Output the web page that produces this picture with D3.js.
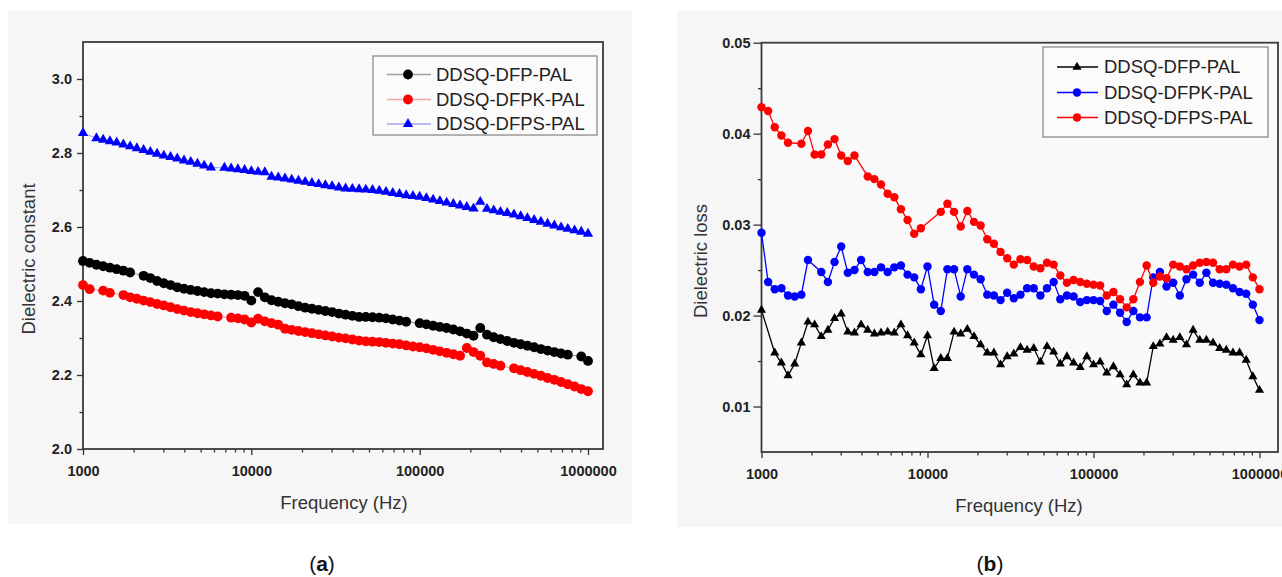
<!DOCTYPE html>
<html>
<head>
<meta charset="utf-8">
<script src="https://cdn.jsdelivr.net/npm/d3@7"></script>
<style>
  html, body { margin: 0; padding: 0; background: #ffffff; }
  svg { display: block; }
  text { font-family: Arial, "Liberation Sans", sans-serif; }
</style>
</head>
<body>
<svg id="chart" width="1282" height="577"></svg>
<script>
// ---------------- DATA ----------------
const freq = [1000,1096,1202,1318,1445,1585,1738,1905,2089,2291,2512,2754,3020,3311,3631,3981,4365,4786,5248,5754,
  6310,6918,7586,8318,9120,10000,10965,12023,13183,14454,15849,17378,19055,20893,22909,25119,27542,30200,33113,36308,
  39811,43652,47863,52481,57544,63096,69183,75858,83176,91201,100000,109648,120226,131826,144544,158489,173780,190546,208930,229087,
  251189,275423,301995,331131,363078,398107,436516,478630,524807,575440,630957,691831,758578,831764,912011,1000000];

const seriesNames = ["DDSQ-DFP-PAL", "DDSQ-DFPK-PAL", "DDSQ-DFPS-PAL"];

// (a) Dielectric constant
const dfpConst = [2.508,2.503,2.498,2.494,2.490,2.486,2.482,2.477,null,2.468,2.462,2.454,2.448,2.443,2.437,2.433,2.430,2.427,2.424,2.421,
  2.420,2.418,2.417,2.416,2.414,2.401,2.424,2.410,2.402,2.398,2.394,2.391,2.386,2.382,2.379,2.376,2.373,2.370,2.366,2.363,
  2.360,2.357,2.357,2.356,2.355,2.353,2.350,2.347,2.344,null,2.340,2.337,2.333,2.330,2.327,2.323,2.318,2.312,2.306,2.327,
  2.309,2.302,2.297,2.292,2.287,2.283,2.279,2.275,2.270,2.266,2.262,2.258,2.255,null,2.250,2.238];
const dfpkConst = [2.443,2.432,null,2.428,2.422,null,2.416,2.410,2.406,2.401,2.397,2.392,2.388,2.383,2.378,2.374,2.370,2.367,2.364,2.361,
  2.358,null,2.355,2.353,2.350,2.342,2.352,2.345,2.340,2.336,2.325,2.322,2.319,2.316,2.313,2.310,2.307,2.304,2.301,2.299,
  2.296,2.293,2.291,2.290,2.289,2.287,2.285,2.283,2.280,2.277,2.275,2.272,2.268,2.264,2.260,2.256,2.252,2.273,2.262,2.252,
  2.234,2.230,2.225,null,2.218,2.213,2.208,2.203,2.198,2.192,2.187,2.181,2.175,2.169,2.162,2.156];
const dfpsConst = [2.854,null,2.840,2.836,2.832,2.828,2.823,2.818,2.813,2.808,2.803,2.798,2.793,2.789,2.785,2.780,2.776,2.771,2.766,2.761,
  null,2.760,2.758,2.756,2.754,2.751,2.749,2.748,2.736,2.734,2.731,2.728,2.725,2.722,2.719,2.716,2.713,2.710,2.707,2.704,
  2.703,2.702,2.701,2.700,2.698,2.695,2.692,2.689,2.686,2.684,2.682,2.678,2.674,2.670,2.666,2.662,2.658,2.654,2.650,2.668,
  2.649,2.645,2.641,2.638,2.634,2.629,2.624,2.619,2.614,2.609,2.604,2.599,2.595,2.591,2.587,2.582];

// (b) Dielectric loss
const dfpLoss = [0.0206,null,0.0159,0.0148,0.0134,0.0147,0.0170,0.0193,0.0190,0.0177,0.0184,0.0197,0.0202,0.0182,0.0181,0.0190,0.0184,0.0180,0.0181,0.0182,
  0.0181,0.0190,0.0178,0.0170,0.0157,0.0178,0.0142,0.0153,0.0153,0.0182,0.0180,0.0185,0.0177,0.0168,0.0159,0.0159,0.0146,0.0155,0.0158,0.0165,
  0.0162,0.0164,0.0149,0.0166,0.0160,0.0147,0.0155,0.0148,0.0143,0.0155,0.0146,0.0149,0.0137,0.0144,0.0135,0.0124,0.0135,0.0126,0.0126,0.0166,
  0.0169,0.0176,0.0173,0.0176,0.0168,0.0184,0.0173,0.0173,0.0170,0.0164,0.0162,0.0159,0.0159,0.0151,0.0133,0.0118];
const dfpkLoss = [0.0291,0.0237,0.0229,0.0230,0.0222,0.0221,0.0223,0.0261,null,0.0248,0.0237,0.0259,0.0276,0.0247,0.0250,0.0261,0.0248,0.0248,0.0253,0.0248,
  0.0253,0.0255,0.0245,0.0242,0.0229,0.0254,0.0212,0.0205,0.0251,0.0251,0.0221,0.0251,0.0245,0.0240,0.0223,0.0222,0.0217,0.0225,0.0219,0.0223,
  0.0230,0.0230,0.0222,0.0230,0.0237,0.0218,0.0222,0.0221,0.0215,0.0217,0.0217,0.0216,0.0205,0.0212,0.0203,0.0193,0.0205,0.0198,0.0198,0.0242,
  0.0248,0.0232,0.0236,0.0222,0.0240,0.0245,0.0236,0.0247,0.0236,0.0235,0.0234,0.0230,0.0226,0.0224,0.0212,0.0195];
const dfpsLoss = [0.0429,0.0425,0.0407,0.0398,0.0390,null,0.0389,0.0403,0.0377,0.0377,0.0388,0.0394,0.0376,0.0370,0.0376,null,0.0353,0.0350,0.0344,0.0334,
  0.0330,0.0317,0.0305,0.0290,0.0296,null,null,0.0314,0.0323,0.0314,0.0298,0.0315,0.0303,0.0299,0.0284,0.0279,0.0270,0.0263,0.0256,0.0262,
  0.0261,0.0254,0.0252,0.0258,0.0256,0.0244,0.0236,0.0239,0.0237,0.0235,0.0234,0.0233,0.0222,0.0226,0.0218,0.0209,0.0218,0.0237,0.0255,0.0236,
  0.0243,0.0241,0.0256,0.0254,0.0251,0.0255,0.0258,0.0259,0.0258,0.0251,0.0251,0.0256,0.0254,0.0256,0.0242,0.0229];

const freqTicks = [1000, 10000, 100000, 1000000];
const constTicks = [2.0, 2.2, 2.4, 2.6, 2.8, 3.0];
const constMinorTicks = [2.1, 2.3, 2.5, 2.7, 2.9];
const lossTicks = [0.01, 0.02, 0.03, 0.04, 0.05];
const lossMinorTicks = [0.015, 0.025, 0.035, 0.045];

// ---------------- DRAW ----------------
const svg = d3.select("#chart");
const minorFreq = [];
[1000, 10000, 100000].forEach(d => { for (let k = 2; k <= 9; k++) minorFreq.push(d * k); });

function panel(cfg) {
  const g = svg.append("g");
  g.append("rect").attr("x", cfg.card[0]).attr("y", cfg.card[1])
    .attr("width", cfg.card[2]).attr("height", cfg.card[3]).attr("fill", "#f6f6f6");

  const x = d3.scaleLog().domain([1000, 1e6]).range([cfg.left, cfg.x1e6]);
  const y = d3.scaleLinear().domain(cfg.yDomain).range([cfg.bottom, cfg.top]);

  g.append("rect").attr("x", cfg.left).attr("y", cfg.top)
    .attr("width", cfg.right - cfg.left).attr("height", cfg.bottom - cfg.top)
    .attr("fill", "#f9f9f9");

  const xAxis = g.append("g").attr("transform", `translate(0,${cfg.bottom})`)
    .call(d3.axisBottom(x).tickValues(freqTicks).tickFormat(d3.format("d"))
      .tickSize(6).tickPadding(11));
  const xMinor = g.append("g").attr("transform", `translate(0,${cfg.bottom})`)
    .call(d3.axisBottom(x).tickValues(minorFreq).tickFormat("").tickSize(3.5));
  const yAxis = g.append("g").attr("transform", `translate(${cfg.left},0)`)
    .call(d3.axisLeft(y).tickValues(cfg.yTicks).tickFormat(cfg.yFormat)
      .tickSize(cfg.yTickSize).tickPadding(cfg.yPad));
  const yMinor = g.append("g").attr("transform", `translate(${cfg.left},0)`)
    .call(d3.axisLeft(y).tickValues(cfg.yMinor).tickFormat("").tickSize(3.5));
  [xAxis, xMinor, yAxis, yMinor].forEach(a => {
    a.select(".domain").remove();
    a.selectAll("line").attr("stroke", "#333").attr("stroke-width", 1.3);
    a.selectAll("text").attr("fill", "#222").attr("font-size", 14.5).attr("font-weight", "bold")
      .attr("font-family", "Arial, 'Liberation Sans', sans-serif");
  });

  g.append("rect").attr("x", cfg.left).attr("y", cfg.top)
    .attr("width", cfg.right - cfg.left).attr("height", cfg.bottom - cfg.top)
    .attr("fill", "none").attr("stroke", "#3a3a3a").attr("stroke-width", 1.8);

  cfg.series.forEach(s => {
    const pts = freq.map((f, i) => ({ f, v: s.values[i] })).filter(d => d.v != null);
    const line = d3.line().x(d => x(d.f)).y(d => y(d.v));
    g.append("path").datum(pts).attr("d", line).attr("fill", "none")
      .attr("stroke", s.lineColor).attr("stroke-width", cfg.lineWidth);
    const sym = d3.symbol().type(s.shape === "tri" ? d3.symbolTriangle : d3.symbolCircle)
      .size(s.shape === "tri" ? cfg.triSize : cfg.circSize);
    g.append("g").selectAll("path").data(pts).join("path")
      .attr("transform", d => `translate(${x(d.f)},${y(d.v)})`)
      .attr("d", sym).attr("fill", s.color);
  });

  const L = cfg.legend;
  g.append("rect").attr("x", L.x).attr("y", L.y).attr("width", L.w).attr("height", L.h)
    .attr("fill", "#fbfbfb").attr("stroke", "#8a8a8a").attr("stroke-width", 1.3);
  cfg.series.forEach((s, i) => {
    const yy = L.rows[i];
    g.append("line").attr("x1", L.lx1).attr("x2", L.lx2).attr("y1", yy).attr("y2", yy)
      .attr("stroke", s.legendLine).attr("stroke-width", 1.6);
    const sym = d3.symbol().type(s.shape === "tri" ? d3.symbolTriangle : d3.symbolCircle)
      .size(s.shape === "tri" ? cfg.triSize : cfg.circSize);
    g.append("path").attr("transform", `translate(${L.mx},${yy})`).attr("d", sym).attr("fill", s.color);
    g.append("text").attr("x", L.tx).attr("y", yy).attr("dy", "0.35em")
      .attr("font-size", 18.5).attr("fill", "#222").text(s.name);
  });

  g.append("text").attr("x", cfg.xTitle[0]).attr("y", cfg.xTitle[1]).attr("text-anchor", "middle")
    .attr("font-size", 18.5).attr("fill", "#333").text("Frequency (Hz)");
  g.append("text").attr("transform", `translate(${cfg.yTitle[0]},${cfg.yTitle[1]}) rotate(-90)`)
    .attr("text-anchor", "middle").attr("dy", "0.35em")
    .attr("font-size", 18.5).attr("fill", "#333").text(cfg.yLabel);

  const t = g.append("text").attr("x", cfg.letter[0]).attr("y", cfg.letter[1]).attr("text-anchor", "middle")
    .attr("font-family", "'Liberation Serif', 'Times New Roman', serif").attr("font-size", 21).attr("fill", "#111");
  t.append("tspan").text("(");
  t.append("tspan").attr("font-weight", "bold").text(cfg.letterText);
  t.append("tspan").text(")");
}

panel({
  card: [8, 10, 624, 514],
  left: 83, right: 603, top: 42, bottom: 449, x1e6: 588,
  yDomain: [2.0, 3.1], yTicks: constTicks, yMinor: constMinorTicks, yFormat: d3.format(".1f"),
  yTickSize: 6, yPad: 5,
  lineWidth: 1, triSize: 46, circSize: 76,
  series: [
    { name: seriesNames[0], values: dfpConst, color: "#000000", lineColor: "#9a9a9a", legendLine: "#a0a0a0", shape: "circ" },
    { name: seriesNames[1], values: dfpkConst, color: "#ff0000", lineColor: "#f4a0a0", legendLine: "#f3a5a5", shape: "circ" },
    { name: seriesNames[2], values: dfpsConst, color: "#0000ff", lineColor: "#a0a0f4", legendLine: "#a5a5f3", shape: "tri" }
  ],
  legend: { x: 373, y: 56, w: 224, h: 79, rows: [74.5, 99.5, 124], lx1: 387, lx2: 431, mx: 408, tx: 436 },
  xTitle: [344, 509], yTitle: [29, 259], yLabel: "Dielectric constant",
  letter: [322, 571], letterText: "a"
});

panel({
  card: [677, 10, 605, 517],
  left: 761.5, right: 1278, top: 42.7, bottom: 452, x1e6: 1259.5,
  yDomain: [0.005, 0.05], yTicks: lossTicks, yMinor: lossMinorTicks, yFormat: d3.format(".2f"),
  yTickSize: 8, yPad: 3,
  lineWidth: 1.3, triSize: 36, circSize: 56,
  series: [
    { name: seriesNames[0], values: dfpLoss, color: "#000000", lineColor: "#000000", legendLine: "#000000", shape: "tri" },
    { name: seriesNames[1], values: dfpkLoss, color: "#0000ff", lineColor: "#0000ff", legendLine: "#0000ff", shape: "circ" },
    { name: seriesNames[2], values: dfpsLoss, color: "#ff0000", lineColor: "#ff0000", legendLine: "#ff0000", shape: "circ" }
  ],
  legend: { x: 1043, y: 47, w: 225, h: 90, rows: [67, 92.5, 117.5], lx1: 1057, lx2: 1098, mx: 1077, tx: 1104 },
  xTitle: [1019, 512], yTitle: [701, 261], yLabel: "Dielectric loss",
  letter: [990, 571], letterText: "b"
});
</script>
</body>
</html>
